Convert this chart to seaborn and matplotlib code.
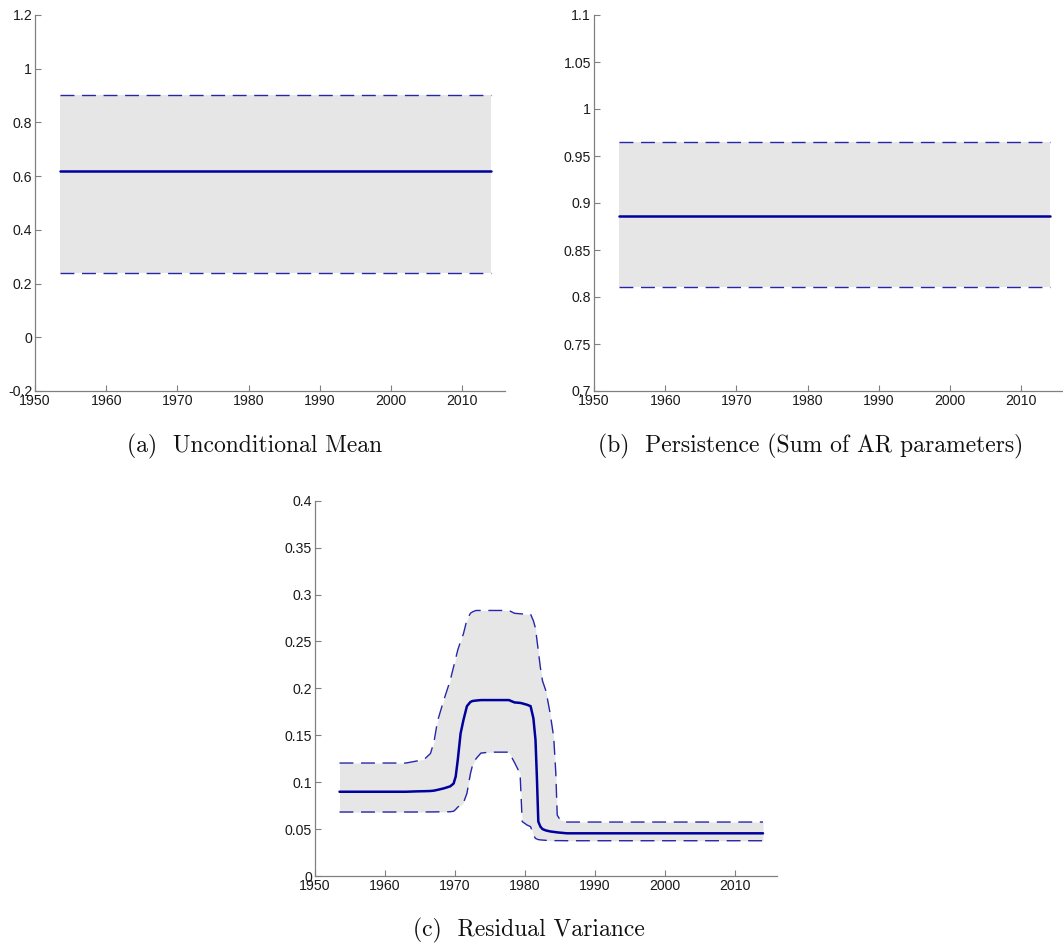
import numpy as np
import pandas as pd
import matplotlib
matplotlib.use("Agg")
import matplotlib.pyplot as plt
import seaborn as sns

# ---------------- data ----------------
const_years = [1953.5, 2014.0]

mean_a = [0.619, 0.619]
upper_a = [0.902, 0.902]
lower_a = [0.239, 0.239]

mean_b = [0.886, 0.886]
upper_b = [0.965, 0.965]
lower_b = [0.811, 0.811]

years_c = [1953.5, 1963, 1964.5, 1965.7, 1966.5, 1967, 1967.5, 1968.4, 1969.3, 1969.8,
           1970.1, 1970.4, 1970.8, 1971.2, 1971.7, 1972.2, 1972.5, 1973, 1973.7, 1975,
           1977.7, 1978.5, 1979.3, 1979.6, 1980.3, 1980.8, 1981.2, 1981.5, 1981.7, 1981.9,
           1982.2, 1982.5, 1983, 1983.6, 1984.1, 1984.4, 1984.6, 1985, 1986, 2014]
mean_c = [0.0898, 0.0898, 0.0902, 0.0904, 0.0906, 0.0910, 0.0918, 0.0934, 0.0955, 0.0985,
          0.106, 0.124, 0.152, 0.166, 0.181, 0.1855, 0.1865, 0.187, 0.1875, 0.1875,
          0.1875, 0.185, 0.1845, 0.184, 0.1825, 0.181, 0.168, 0.145, 0.105, 0.058,
          0.0526, 0.050, 0.0485, 0.0475, 0.047, 0.0467, 0.0465, 0.0462, 0.0455, 0.0455]
upper_c = [0.1204, 0.1204, 0.1225, 0.125, 0.1306, 0.143, 0.165, 0.1875, 0.208, 0.223,
           0.232, 0.241, 0.250, 0.258, 0.273, 0.280, 0.2815, 0.283, 0.283, 0.283,
           0.283, 0.280, 0.2795, 0.2793, 0.279, 0.279, 0.272, 0.264, 0.252, 0.240,
           0.222, 0.208, 0.197, 0.173, 0.148, 0.110, 0.065, 0.060, 0.0575, 0.0575]
lower_c = [0.0682, 0.0682, 0.0682, 0.0682, 0.0683, 0.0683, 0.0684, 0.0684, 0.0685, 0.069,
           0.071, 0.0735, 0.0755, 0.078, 0.088, 0.109, 0.118, 0.125, 0.131, 0.132,
           0.132, 0.121, 0.109, 0.058, 0.0543, 0.0526, 0.0437, 0.040, 0.0394, 0.0388,
           0.0385, 0.0383, 0.0380, 0.0378, 0.0377, 0.0377, 0.0377, 0.0377, 0.0376, 0.0376]

x_ticks = [1950, 1960, 1970, 1980, 1990, 2000, 2010]
x_ticklabels = ["1950", "1960", "1970", "1980", "1990", "2000", "2010"]

y_ticks_a = [-0.2, 0, 0.2, 0.4, 0.6, 0.8, 1.0, 1.2]
y_ticklabels_a = ["-0.2", "0", "0.2", "0.4", "0.6", "0.8", "1", "1.2"]
y_ticks_b = [0.7, 0.75, 0.8, 0.85, 0.9, 0.95, 1.0, 1.05, 1.1]
y_ticklabels_b = ["0.7", "0.75", "0.8", "0.85", "0.9", "0.95", "1", "1.05", "1.1"]
y_ticks_c = [0, 0.05, 0.1, 0.15, 0.2, 0.25, 0.3, 0.35, 0.4]
y_ticklabels_c = ["0", "0.05", "0.1", "0.15", "0.2", "0.25", "0.3", "0.35", "0.4"]

captions = ["(a)  Unconditional Mean",
            "(b)  Persistence (Sum of AR parameters)",
            "(c)  Residual Variance"]

# ---------------- style ----------------
sns.set_style("ticks")
plt.rcParams["font.family"] = ["Liberation Sans", "DejaVu Sans"]

FILL = "#e6e6e6"
MEAN_COL = "#00009c"
BAND_COL = "#2626a8"
SPINE = "#808080"
DASH = (0, (10, 5.5))

fig = plt.figure(figsize=(10.63, 9.44), dpi=100)
W, H = 1063, 944


def make_ax(left, top, right, bottom):
    return fig.add_axes([left / W, 1 - bottom / H, (right - left) / W, (bottom - top) / H])


ax_a = make_ax(35, 15, 505, 391)
ax_b = make_ax(594, 15, 1064, 391)
ax_c = make_ax(315, 500.7, 777, 876)


def draw(ax, years, mean, upper, lower, yticks, yticklabels, ylim):
    df = pd.DataFrame({"year": years, "mean": mean, "upper": upper, "lower": lower})
    ax.fill_between(df["year"], df["lower"], df["upper"], color=FILL, linewidth=0, zorder=1)
    sns.lineplot(data=df, x="year", y="upper", ax=ax, color=BAND_COL, linewidth=1.0,
                 linestyle=DASH, zorder=2, estimator=None, sort=False)
    sns.lineplot(data=df, x="year", y="lower", ax=ax, color=BAND_COL, linewidth=1.0,
                 linestyle=DASH, zorder=2, estimator=None, sort=False)
    sns.lineplot(data=df, x="year", y="mean", ax=ax, color=MEAN_COL, linewidth=1.8,
                 zorder=3, estimator=None, sort=False)
    ax.set_xlim(1950, 2016)
    ax.set_ylim(*ylim)
    ax.set_xticks(x_ticks)
    ax.set_xticklabels(x_ticklabels)
    ax.set_yticks(yticks)
    ax.set_yticklabels(yticklabels)
    ax.set_xlabel("")
    ax.set_ylabel("")
    for side in ["top", "right"]:
        ax.spines[side].set_visible(False)
    for side in ["left", "bottom"]:
        ax.spines[side].set_color(SPINE)
        ax.spines[side].set_linewidth(0.9)
    ax.tick_params(direction="in", length=4, width=0.8, color=SPINE,
                   labelsize=10.2, labelcolor="#1a1a1a", pad=2)
    ax.set_facecolor("white")


draw(ax_a, const_years, mean_a, upper_a, lower_a, y_ticks_a, y_ticklabels_a, (-0.2, 1.2))
draw(ax_b, const_years, mean_b, upper_b, lower_b, y_ticks_b, y_ticklabels_b, (0.7, 1.1))
draw(ax_c, years_c, mean_c, upper_c, lower_c, y_ticks_c, y_ticklabels_c, (0, 0.4))

cap_kw = dict(family="cmr10", fontsize=17, ha="center", va="baseline", color="#111111")
fig.text(255 / W, 1 - 452.5 / H, captions[0], **cap_kw)
fig.text(810.5 / W, 1 - 452.5 / H, captions[1], **cap_kw)
fig.text(529 / W, 1 - 936.5 / H, captions[2], **cap_kw)

fig.savefig("out.png", dpi=100, facecolor="white")
